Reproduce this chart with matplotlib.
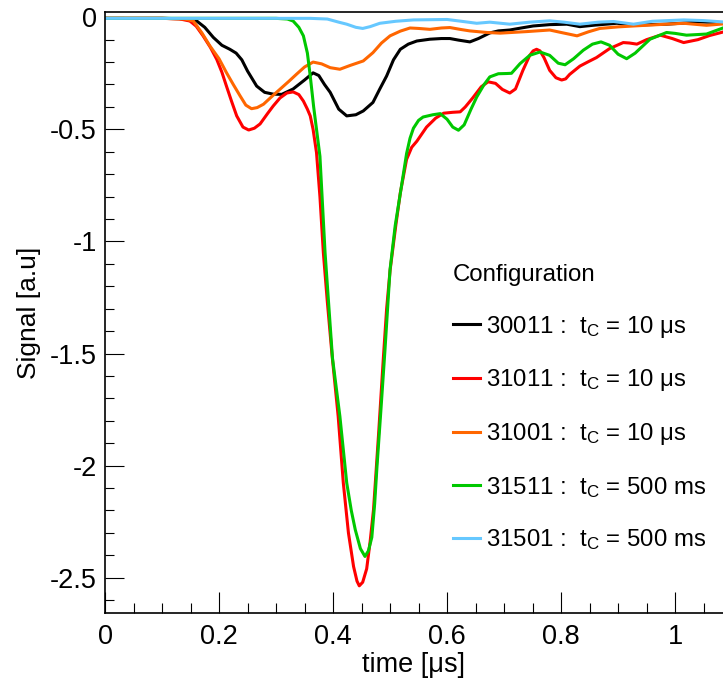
import matplotlib
matplotlib.use("Agg")
import matplotlib.pyplot as plt
from matplotlib.ticker import MultipleLocator, FuncFormatter

# ==== data (time in us, signal in a.u.)
t_30011 = [0, 0.10, 0.14, 0.16, 0.175, 0.19, 0.205, 0.219, 0.23, 0.24, 0.25, 0.266, 0.28, 0.295,
           0.31, 0.33, 0.35, 0.365, 0.375, 0.385, 0.395, 0.41, 0.424, 0.44, 0.453, 0.47, 0.482,
           0.494, 0.506, 0.518, 0.532, 0.547, 0.57, 0.59, 0.605, 0.62, 0.64, 0.655, 0.675, 0.69,
           0.71, 0.73, 0.751, 0.78, 0.81, 0.833, 0.86, 0.898, 0.927, 0.955, 0.985, 1.015, 1.044, 1.084]
s_30011 = [-0.005, -0.005, -0.007, -0.015, -0.045, -0.09, -0.125, -0.143, -0.16, -0.19, -0.24,
           -0.307, -0.335, -0.343, -0.344, -0.32, -0.28, -0.248, -0.26, -0.3, -0.335, -0.41, -0.44,
           -0.435, -0.418, -0.38, -0.32, -0.262, -0.19, -0.143, -0.12, -0.106, -0.098, -0.095,
           -0.095, -0.102, -0.11, -0.095, -0.07, -0.061, -0.057, -0.048, -0.039, -0.033, -0.031,
           -0.042, -0.035, -0.027, -0.036, -0.033, -0.031, -0.026, -0.021, -0.024]

t_31011 = [0, 0.10, 0.13, 0.149, 0.16, 0.172, 0.185, 0.196, 0.205, 0.213, 0.222, 0.231, 0.242,
           0.252, 0.262, 0.272, 0.285, 0.295, 0.307, 0.319, 0.33, 0.34, 0.348, 0.355, 0.36, 0.365,
           0.371, 0.377, 0.383, 0.39, 0.398, 0.409, 0.418, 0.427, 0.436, 0.442, 0.446, 0.452,
           0.459, 0.465, 0.471, 0.48, 0.488, 0.494, 0.5, 0.51, 0.518, 0.529, 0.538, 0.547, 0.564,
           0.58, 0.594, 0.61, 0.623, 0.632, 0.645, 0.66, 0.672, 0.685, 0.697, 0.71, 0.72, 0.733,
           0.745, 0.751, 0.757, 0.763, 0.77, 0.78, 0.791, 0.801, 0.808, 0.815, 0.833, 0.848,
           0.862, 0.885, 0.909, 0.92, 0.933, 0.95, 0.974, 0.995, 1.015, 1.04, 1.06, 1.084]
s_31011 = [-0.005, -0.005, -0.007, -0.017, -0.04, -0.083, -0.135, -0.188, -0.245, -0.307, -0.375,
           -0.44, -0.49, -0.503, -0.495, -0.476, -0.43, -0.396, -0.36, -0.338, -0.333, -0.345,
           -0.374, -0.41, -0.44, -0.5, -0.604, -0.8, -1.05, -1.27, -1.5, -1.78, -2.077, -2.30,
           -2.45, -2.515, -2.536, -2.52, -2.46, -2.34, -2.196, -1.854, -1.53, -1.3, -1.13, -0.93,
           -0.783, -0.634, -0.58, -0.553, -0.49, -0.45, -0.428, -0.424, -0.422, -0.4, -0.36,
           -0.31, -0.288, -0.295, -0.322, -0.338, -0.32, -0.237, -0.17, -0.15, -0.143, -0.15,
           -0.18, -0.237, -0.27, -0.28, -0.275, -0.255, -0.218, -0.198, -0.18, -0.14, -0.113,
           -0.115, -0.12, -0.1, -0.08, -0.095, -0.113, -0.1, -0.082, -0.066]

t_31001 = [0, 0.10, 0.14, 0.155, 0.17, 0.184, 0.2, 0.213, 0.225, 0.237, 0.247, 0.257, 0.267,
           0.278, 0.292, 0.307, 0.322, 0.336, 0.35, 0.365, 0.38, 0.395, 0.412, 0.43, 0.453, 0.47,
           0.485, 0.5, 0.518, 0.535, 0.55, 0.57, 0.59, 0.605, 0.625, 0.64, 0.67, 0.693, 0.74,
           0.78, 0.8, 0.828, 0.848, 0.868, 0.9, 0.927, 0.97, 1.015, 1.055, 1.084]
s_31001 = [-0.005, -0.005, -0.008, -0.017, -0.07, -0.128, -0.185, -0.247, -0.3, -0.351, -0.392,
           -0.408, -0.403, -0.388, -0.355, -0.321, -0.287, -0.254, -0.222, -0.2, -0.208, -0.225,
           -0.232, -0.215, -0.195, -0.158, -0.115, -0.083, -0.062, -0.048, -0.05, -0.054, -0.048,
           -0.046, -0.055, -0.061, -0.068, -0.071, -0.064, -0.057, -0.068, -0.083, -0.065, -0.05,
           -0.043, -0.039, -0.033, -0.027, -0.036, -0.03]

t_31511 = [0, 0.30, 0.32, 0.33, 0.34, 0.348, 0.355, 0.36, 0.366, 0.371, 0.377, 0.386, 0.399,
           0.412, 0.424, 0.432, 0.439, 0.448, 0.456, 0.462, 0.468, 0.473, 0.477, 0.484, 0.491,
           0.5, 0.509, 0.518, 0.529, 0.535, 0.541, 0.55, 0.558, 0.575, 0.588, 0.6, 0.61, 0.62,
           0.63, 0.642, 0.652, 0.665, 0.675, 0.69, 0.705, 0.713, 0.728, 0.745, 0.763, 0.78, 0.795,
           0.807, 0.822, 0.839, 0.855, 0.87, 0.885, 0.9, 0.915, 0.93, 0.956, 0.985, 1.0, 1.02,
           1.055, 1.084]
s_31511 = [-0.005, -0.005, -0.008, -0.017, -0.045, -0.083, -0.16, -0.262, -0.4, -0.5, -0.62,
           -1.05, -1.52, -1.78, -2.077, -2.2, -2.286, -2.37, -2.405, -2.38, -2.32, -2.17, -2.007,
           -1.75, -1.487, -1.125, -0.93, -0.786, -0.608, -0.54, -0.495, -0.46, -0.445, -0.435,
           -0.43, -0.455, -0.49, -0.504, -0.48, -0.41, -0.356, -0.3, -0.266, -0.252, -0.251,
           -0.25, -0.207, -0.17, -0.155, -0.17, -0.205, -0.212, -0.185, -0.147, -0.12, -0.11,
           -0.125, -0.165, -0.185, -0.16, -0.098, -0.068, -0.072, -0.08, -0.075, -0.048]

t_31501 = [0, 0.36, 0.39, 0.41, 0.424, 0.44, 0.452, 0.465, 0.482, 0.51, 0.541, 0.6, 0.625, 0.652,
           0.675, 0.71, 0.745, 0.78, 0.805, 0.833, 0.865, 0.892, 0.927, 0.96, 1.015, 1.05, 1.084]
s_31501 = [-0.005, -0.005, -0.008, -0.022, -0.031, -0.045, -0.05, -0.042, -0.027, -0.018, -0.012,
           -0.01, -0.018, -0.027, -0.022, -0.031, -0.022, -0.016, -0.022, -0.031, -0.022, -0.019,
           -0.031, -0.018, -0.012, -0.015, -0.021]

labels = [
    r"30011 :  t$_{\mathrm{C}}$ = 10 μs",
    r"31011 :  t$_{\mathrm{C}}$ = 10 μs",
    r"31001 :  t$_{\mathrm{C}}$ = 10 μs",
    r"31511 :  t$_{\mathrm{C}}$ = 500 ms",
    r"31501 :  t$_{\mathrm{C}}$ = 500 ms",
]
colors = ["#000000", "#ff0000", "#ff6600", "#00c800", "#66c8ff"]

plt.rcParams["font.family"] = ["Liberation Sans", "DejaVu Sans"]
plt.rcParams["mathtext.fontset"] = "custom"
plt.rcParams["mathtext.rm"] = "Liberation Sans"
plt.rcParams["mathtext.it"] = "Liberation Sans:italic"

fig = plt.figure(figsize=(7.23, 6.85), dpi=100)
ax = fig.add_axes([105 / 723, 1 - 612.5 / 685, 1 - 105 / 723, (612.5 - 12.3) / 685])

series = [(t_30011, s_30011), (t_31011, s_31011), (t_31001, s_31001),
          (t_31511, s_31511), (t_31501, s_31501)]
for (t, s), lab, col in zip(series, labels, colors):
    ax.plot(t, s, color=col, lw=2.2, label=lab, solid_joinstyle="round")

ax.set_xlim(0, 1.084)
ax.set_ylim(-2.655, 0.022)

ax.xaxis.set_major_locator(MultipleLocator(0.2))
ax.xaxis.set_minor_locator(MultipleLocator(0.05))
ax.yaxis.set_major_locator(MultipleLocator(0.5))
ax.yaxis.set_minor_locator(MultipleLocator(0.1))
ax.xaxis.set_major_formatter(FuncFormatter(lambda v, p: f"{v:g}"))
ax.yaxis.set_major_formatter(FuncFormatter(lambda v, p: f"{v:g}"))

ax.tick_params(axis="x", which="major", direction="in", length=15, width=0.8, labelsize=19.5, pad=8)
ax.tick_params(axis="x", which="minor", direction="in", length=7.5, width=0.8)
ax.tick_params(axis="y", which="major", direction="in", length=13.5, width=0.8, labelsize=19.5, pad=6)
ax.tick_params(axis="y", which="minor", direction="in", length=6.8, width=0.8)

ax.spines["right"].set_visible(False)
for side in ["left", "bottom", "top"]:
    ax.spines[side].set_linewidth(1.2)

ax.set_xlabel("time [μs]", fontsize=19.5, labelpad=2)
ax.set_ylabel("Signal [a.u]", fontsize=19, labelpad=6)

leg = ax.legend(
    title="Configuration",
    loc="upper left",
    bbox_to_anchor=((453 - 105) / 618, (612.5 - 264) / 600.2),
    bbox_transform=ax.transAxes,
    frameon=False,
    borderpad=0,
    borderaxespad=0,
    fontsize=17.3,
    title_fontsize=17.3,
    handlelength=1.12,
    handletextpad=0.25,
    labelspacing=1.15,
    alignment="left",
)
leg._legend_box.sep = 20

plt.savefig("out.png", dpi=100)
